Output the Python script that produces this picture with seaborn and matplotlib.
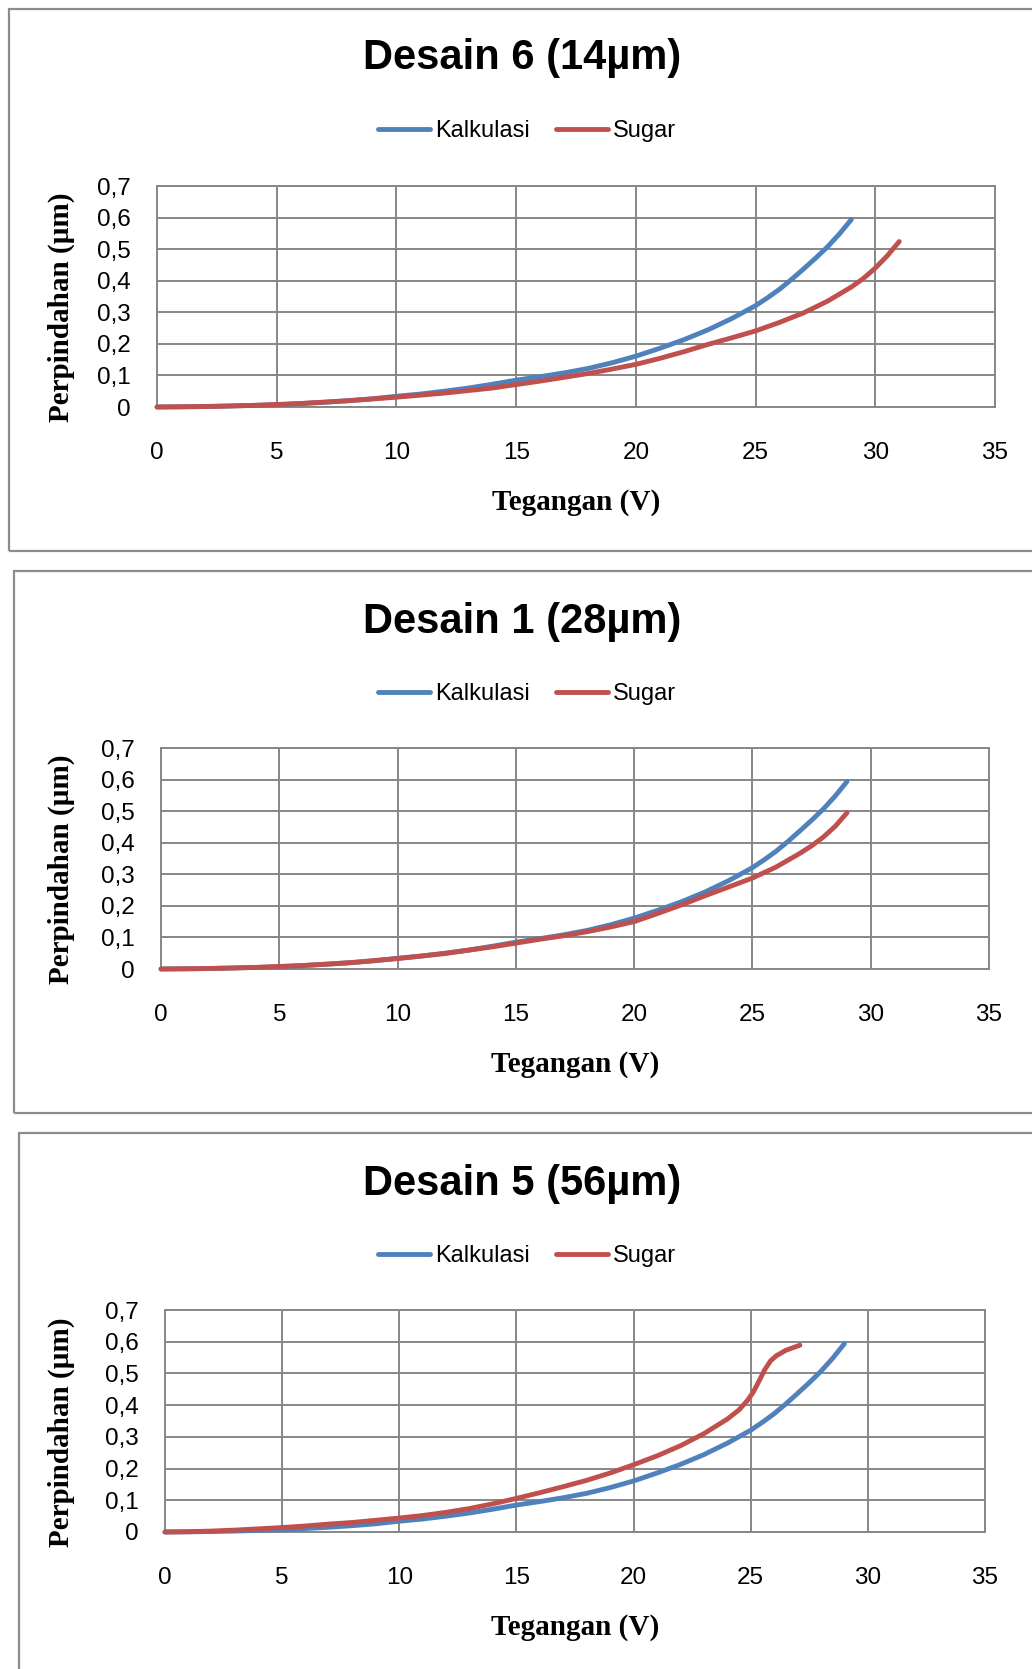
import matplotlib
matplotlib.use("Agg")
import matplotlib.pyplot as plt
from matplotlib.patches import Rectangle
from matplotlib.ticker import FuncFormatter, MultipleLocator
import numpy as np
import pandas as pd
import seaborn as sns

# data (Tegangan in V, Perpindahan in um)
volt_kalkulasi = [0, 1, 2, 3, 4, 5, 6, 7, 8, 9, 10, 11, 12, 13, 14, 15, 16, 17, 18,
                  19, 20, 21, 22, 23, 24, 25, 25.5, 26, 26.5, 27, 27.5, 28, 28.5, 29]
disp_kalkulasi = [0, 0.0005, 0.0015, 0.003, 0.005, 0.007, 0.011, 0.015, 0.02, 0.026,
                  0.034, 0.041, 0.05, 0.06, 0.072, 0.085, 0.096, 0.108, 0.122, 0.14,
                  0.161, 0.186, 0.213, 0.244, 0.28, 0.321, 0.346, 0.373, 0.404, 0.437,
                  0.471, 0.507, 0.548, 0.594]

# Desain 6 (14um)
volt_sugar_d6 = [0, 2, 4, 5, 6, 8, 10, 12, 14, 15, 16, 17, 18, 19, 20, 21, 22, 23,
                 24, 25, 26, 27, 28, 29, 29.5, 30, 30.5, 31]
disp_sugar_d6 = [0, 0.0015, 0.005, 0.008, 0.011, 0.02, 0.031, 0.044, 0.06, 0.071,
                 0.082, 0.094, 0.106, 0.12, 0.135, 0.154, 0.175, 0.198, 0.219, 0.241,
                 0.268, 0.298, 0.335, 0.38, 0.407, 0.44, 0.479, 0.524]

# Desain 1 (28um)
volt_sugar_d1 = [0, 2, 4, 6, 8, 10, 12, 14, 15, 16, 17, 18, 19, 20, 21, 22, 23, 24,
                 25, 26, 27, 27.5, 28, 28.5, 29]
disp_sugar_d1 = [0, 0.0015, 0.005, 0.011, 0.02, 0.033, 0.049, 0.07, 0.082, 0.094,
                 0.105, 0.118, 0.133, 0.15, 0.176, 0.203, 0.232, 0.26, 0.288, 0.323,
                 0.366, 0.39, 0.418, 0.452, 0.495]

# Desain 5 (56um)
volt_sugar_d5 = [0, 1, 2, 3, 4, 5, 6, 7, 8, 9, 10, 11, 12, 13, 14, 15, 16, 17, 18,
                 19, 20, 21, 22, 23, 24, 24.5, 24.85, 25.1, 25.3, 25.6, 25.85, 26.1,
                 26.5, 27.1]
disp_sugar_d5 = [0, 0.001, 0.003, 0.006, 0.01, 0.014, 0.019, 0.025, 0.03, 0.037,
                 0.044, 0.052, 0.062, 0.074, 0.089, 0.106, 0.124, 0.143, 0.163, 0.186,
                 0.212, 0.24, 0.272, 0.31, 0.356, 0.385, 0.414, 0.44, 0.468, 0.512,
                 0.54, 0.556, 0.573, 0.589]

titles = ["Desain 6 (14\u00b5m)", "Desain 1 (28\u00b5m)", "Desain 5 (56\u00b5m)"]
sugar_volts = [volt_sugar_d6, volt_sugar_d1, volt_sugar_d5]
sugar_disps = [disp_sugar_d6, disp_sugar_d1, disp_sugar_d5]
series_names = ["Kalkulasi", "Sugar"]
y_ticks = [0, 0.1, 0.2, 0.3, 0.4, 0.5, 0.6, 0.7]

sns.set_theme(style="white")
sans = ["Liberation Sans", "DejaVu Sans"]
serif = ["Liberation Serif", "DejaVu Serif"]
plt.rcParams["font.family"] = sans
plt.rcParams["text.color"] = "black"
plt.rcParams["axes.labelcolor"] = "black"

W, H = 1032, 1669
fig = plt.figure(figsize=(W / 100, H / 100), dpi=100)
fig.patch.set_facecolor("white")

grid_col = "#878787"
colors = {"Kalkulasi": "#4F81BD", "Sugar": "#C0504D"}
line_w = 3.5

# pixel layout: panel box (left, top, bottom), axes (x0, y0, x1, y1), title y, legend y
boxes = [(9, 9, 551), (14, 571, 1113), (19, 1133, 1700)]
axes_px = [(157, 186, 995, 407), (161, 748, 989, 969), (165, 1310, 985, 1532)]
title_y = [58, 622, 1184]
legend_y = [131, 694, 1256]


def fx(x):
    return x / W


def fy(y):
    return 1 - y / H


for i in range(3):
    bl, bt, bb = boxes[i]
    fig.patches.append(Rectangle((fx(bl), fy(bb)), fx(1100 - bl), (bb - bt) / H,
                                 transform=fig.transFigure, fill=False,
                                 ec="#8c8c8c", lw=1.6, zorder=0))

    x0, y0, x1, y1 = axes_px[i]
    ax = fig.add_axes([fx(x0), fy(y1), (x1 - x0) / W, (y1 - y0) / H])
    ax.set_facecolor("none")

    df = pd.concat([
        pd.DataFrame({"Tegangan": volt_kalkulasi, "Perpindahan": disp_kalkulasi,
                      "Seri": "Kalkulasi"}),
        pd.DataFrame({"Tegangan": sugar_volts[i], "Perpindahan": sugar_disps[i],
                      "Seri": "Sugar"}),
    ])
    sns.lineplot(data=df, x="Tegangan", y="Perpindahan", hue="Seri",
                 hue_order=series_names, palette=colors, estimator=None,
                 sort=False, ax=ax, legend=True)
    for ln in ax.get_lines():
        ln.set_linewidth(line_w)
        ln.set_solid_capstyle("round")
        ln.set_solid_joinstyle("round")
        ln.set_clip_on(False)
        ln.set_zorder(5)

    ax.set_xlim(0, 35)
    ax.set_ylim(0, 0.7)
    ax.xaxis.set_major_locator(MultipleLocator(5))
    ax.set_yticks(y_ticks)
    ax.yaxis.set_major_formatter(FuncFormatter(
        lambda v, p: "0" if abs(v) < 1e-9 else f"{v:.1f}".replace(".", ",")))
    ax.grid(True, color=grid_col, lw=1.4)
    for s in ax.spines.values():
        s.set_color(grid_col)
        s.set_linewidth(1.4)
    ax.tick_params(axis="both", length=0, labelsize=17.5, colors="black")
    ax.tick_params(axis="x", pad=25)
    ax.tick_params(axis="y", pad=19)

    ax.set_xlabel("Tegangan (V)", fontsize=21, fontweight="bold", family=serif)
    ax.set_ylabel("Perpindahan (\u00b5m)", fontsize=21, fontweight="bold", family=serif)
    ax.xaxis.label.set_va("center")
    ax.yaxis.label.set_va("center")
    ax.xaxis.set_label_coords(0.5, -(502 - 407) / 221)
    ax.yaxis.set_label_coords(-(x0 - 61) / (x1 - x0), 0.45)

    fig.text(fx(522), fy(title_y[i]), titles[i], ha="center", va="center",
             fontsize=30, fontweight="bold", color="black")

    handles, labels = ax.get_legend_handles_labels()
    leg = ax.legend(handles, labels, loc="center",
                    bbox_to_anchor=(fx(527), fy(legend_y[i])),
                    bbox_transform=fig.transFigure, ncol=2, frameon=False,
                    fontsize=17, handlelength=2.2, handletextpad=0.2,
                    columnspacing=1.1)
    for h in leg.get_lines():
        h.set_linewidth(line_w)

fig.savefig("out.png", dpi=100, facecolor="white")
